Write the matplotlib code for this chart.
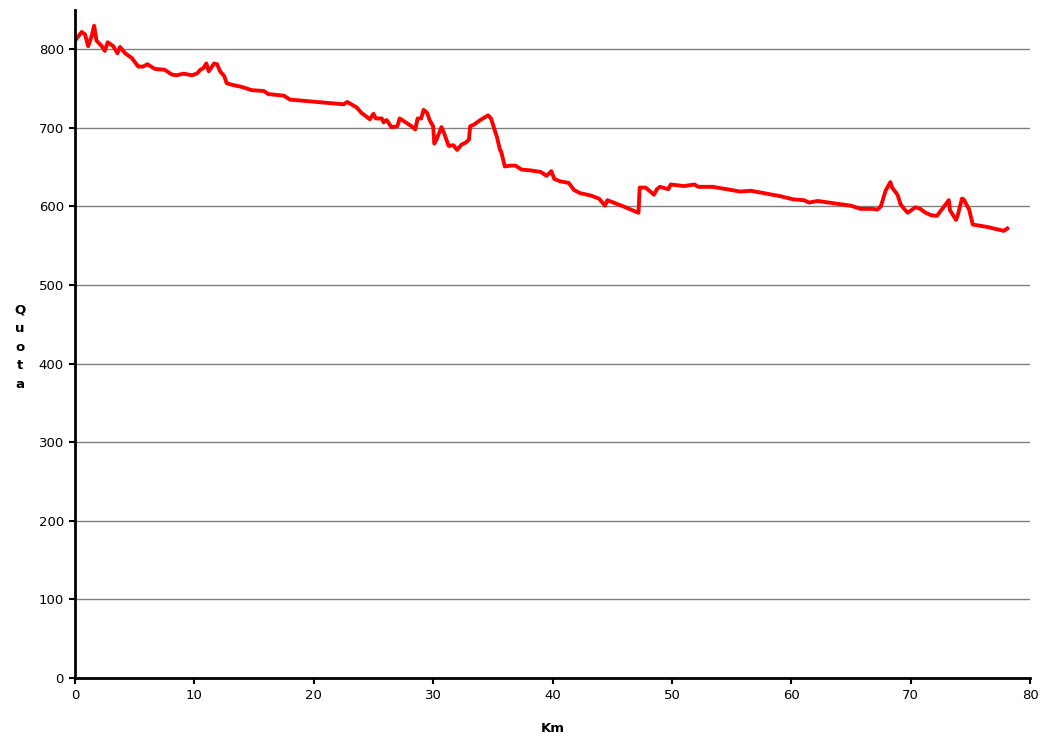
import matplotlib
matplotlib.use('Agg')
import matplotlib.pyplot as plt

# elevation profile (km, quota)
km = [0.0, 0.56, 0.84, 1.1, 1.4, 1.6, 1.8, 2.24, 2.5, 2.74, 3.2, 3.55, 3.77, 4.2,
      4.75, 5.3, 5.7, 6.06, 6.7, 7.5, 8.1, 8.5, 9.1, 9.8, 10.2, 10.5, 10.75, 11.0,
      11.2, 11.65, 11.9, 12.15, 12.5, 12.7, 13.1, 14.0, 14.8, 15.8, 16.2, 17.5,
      18.0, 20.3, 22.5, 22.8, 23.6, 24.0, 24.7, 25.0, 25.2, 25.7, 25.85, 26.1,
      26.5, 27.0, 27.2, 27.7, 28.2, 28.5, 28.7, 29.0, 29.2, 29.5, 29.7, 30.0,
      30.1, 30.3, 30.7, 30.9, 31.3, 31.7, 32.0, 32.4, 32.7, 33.0, 33.1, 33.4,
      33.95, 34.6, 34.85, 35.35, 35.6, 35.7, 36.0, 36.5, 36.9, 37.4, 38.1, 39.0,
      39.5, 39.9, 40.15, 40.65, 41.35, 41.8, 42.3, 43.2, 43.9, 44.4, 44.6, 45.95,
      47.2, 47.3, 47.8, 48.5, 48.75, 49.0, 49.7, 49.9, 51.0, 51.9, 52.2, 53.4,
      54.6, 55.7, 56.6, 57.7, 59.1, 60.2, 61.05, 61.5, 62.2, 63.6, 65.0, 65.8,
      66.8, 67.2, 67.5, 67.9, 68.3, 68.45, 68.9, 69.15, 69.4, 69.75, 70.4, 70.8,
      71.25, 71.7, 72.2, 72.6, 73.2, 73.3, 73.8, 73.95, 74.3, 74.45, 74.9, 75.2,
      75.6, 76.4, 77.25, 77.8, 78.1]
quota = [811, 822, 819, 804, 817, 830, 811, 804, 798, 809, 804, 795, 803, 795,
         789, 778, 778, 781, 775, 774, 768, 767, 769, 767, 769, 774, 776, 782,
         772, 782, 781, 772, 766, 757, 755, 752, 748, 747, 743, 741,
         736, 733, 730, 733, 726, 719, 711, 718, 712, 712, 707, 710,
         701, 702, 712, 707, 702, 698, 712, 712, 723, 719, 710, 702,
         680, 686, 701, 694, 677, 678, 672, 679, 681, 685, 702, 704,
         710, 716, 712, 688, 672, 670, 651, 652, 652, 647, 646, 644,
         639, 645, 635, 632, 630, 621, 617, 614, 610, 601, 608, 600,
         592, 624, 624, 615, 622, 625, 622, 628, 626, 628, 625, 625,
         622, 619, 620, 617, 613, 609, 608, 605, 607, 604, 601, 597,
         597, 596, 600, 620, 631, 624, 615, 603, 598, 592, 599, 597,
         592, 589, 588, 596, 608, 595, 583, 589, 610, 609, 596, 577,
         576, 574, 571, 569, 572]

x_ticks = list(range(0, 90, 10))
y_ticks = list(range(0, 900, 100))

fig = plt.figure(figsize=(10.42, 7.36), dpi=100)
ax = fig.add_axes([0.072, 0.0788, 0.9165, 0.9076])

ax.plot(km, quota, color='#ff0000', linewidth=2.8, solid_joinstyle='round', zorder=3)

ax.set_xlim(0, 80)
ax.set_ylim(0, 850)
ax.set_xticks(x_ticks)
ax.set_yticks(y_ticks)
ax.tick_params(direction='out', length=4, width=1.5, labelsize=9.5, pad=4)

ax.yaxis.grid(True, color='#808080', linewidth=1)
ax.set_axisbelow(True)
for side in ['top', 'right']:
    ax.spines[side].set_visible(False)
for side in ['left', 'bottom']:
    ax.spines[side].set_linewidth(2)
    ax.spines[side].set_zorder(4)

ax.set_xlabel('Km', fontsize=9.5, fontweight='bold', labelpad=14)
fig.text(20 / 1042, 1 - 347 / 736, 'Q\nu\no\nt\na', fontsize=9.5, fontweight='bold',
         ha='center', va='center', linespacing=1.55)

fig.savefig('out.png', dpi=100)
